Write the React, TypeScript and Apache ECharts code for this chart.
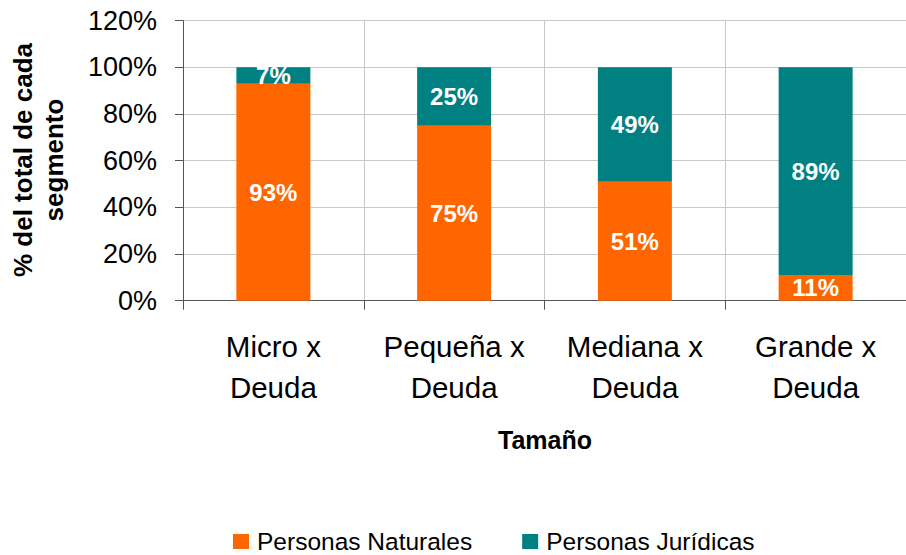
import React, { useEffect, useRef } from "react";
import * as echarts from "echarts";

const categories = ["Micro x\nDeuda", "Pequeña x\nDeuda", "Mediana x\nDeuda", "Grande x\nDeuda"];
const naturales = [93, 75, 51, 11];
const juridicas = [7, 25, 49, 89];
const seriesNames = ["Personas Naturales", "Personas Jurídicas"];
const yTitle = "% del total de cada\nsegmento";
const xTitle = "Tamaño";

const FONT = "'Liberation Sans', Arial, sans-serif";

export default function App() {
  const ref = useRef<HTMLDivElement>(null);
  useEffect(() => {
    if (!ref.current) return;
    const chart = echarts.init(ref.current, undefined, { renderer: "svg" });
    const labelStyle = {
      show: true,
      position: "inside",
      color: "#ffffff",
      fontWeight: "bold",
      fontSize: 24,
      fontFamily: FONT,
      formatter: "{c}%",
    };
    chart.setOption({
      animation: false,
      backgroundColor: "#ffffff",
      textStyle: { fontFamily: FONT },
      grid: { left: 183, right: 0, top: 20.7, bottom: 254.3, containLabel: false },
      xAxis: {
        type: "category",
        data: categories,
        boundaryGap: true,
        axisLine: { show: true, lineStyle: { color: "#555555", width: 1 } },
        axisTick: { show: true, length: 9, lineStyle: { color: "#555555" } },
        splitLine: { show: true, lineStyle: { color: "#c8c8c8", width: 1 } },
        axisLabel: {
          color: "#000000",
          fontSize: 29.5,
          lineHeight: 41,
          margin: 25,
          fontFamily: FONT,
          interval: 0,
        },
      },
      yAxis: {
        type: "value",
        min: 0,
        max: 120,
        interval: 20,
        axisLine: { show: true, lineStyle: { color: "#555555", width: 1 } },
        axisTick: { show: true, length: 8, lineStyle: { color: "#555555" } },
        splitLine: { show: true, lineStyle: { color: "#c8c8c8", width: 1 } },
        axisLabel: {
          color: "#000000",
          fontSize: 27,
          margin: 26,
          fontFamily: FONT,
          formatter: "{value}%",
        },
      },
      legend: {
        left: 233,
        top: 529,
        padding: 0,
        itemWidth: 16,
        itemHeight: 15,
        itemGap: 50,
        icon: "rect",
        textStyle: { fontSize: 24.5, color: "#000000", fontFamily: FONT, padding: [0, 0, 0, 3] },
        data: seriesNames,
      },
      graphic: [
        {
          type: "text",
          x: 38,
          y: 160,
          rotation: Math.PI / 2,
          style: {
            text: yTitle,
            fontSize: 26,
            fontWeight: "bold",
            fontFamily: FONT,
            lineHeight: 31,
            fill: "#000000",
            align: "center",
            verticalAlign: "middle",
          },
        },
        {
          type: "text",
          x: 545,
          y: 440,
          style: {
            text: xTitle,
            fontSize: 25,
            fontWeight: "bold",
            fontFamily: FONT,
            fill: "#000000",
            align: "center",
            verticalAlign: "middle",
          },
        },
      ],
      series: [
        {
          name: seriesNames[0],
          type: "bar",
          stack: "total",
          barWidth: 74,
          data: naturales,
          itemStyle: { color: "#FF6600" },
          label: labelStyle,
        },
        {
          name: seriesNames[1],
          type: "bar",
          stack: "total",
          barWidth: 74,
          data: juridicas,
          itemStyle: { color: "#008080" },
          label: labelStyle,
        },
      ],
    });
    return () => chart.dispose();
  }, []);
  return <div ref={ref} style={{ width: 906, height: 555, position: "absolute", left: 0, top: 0 }} />;
}
